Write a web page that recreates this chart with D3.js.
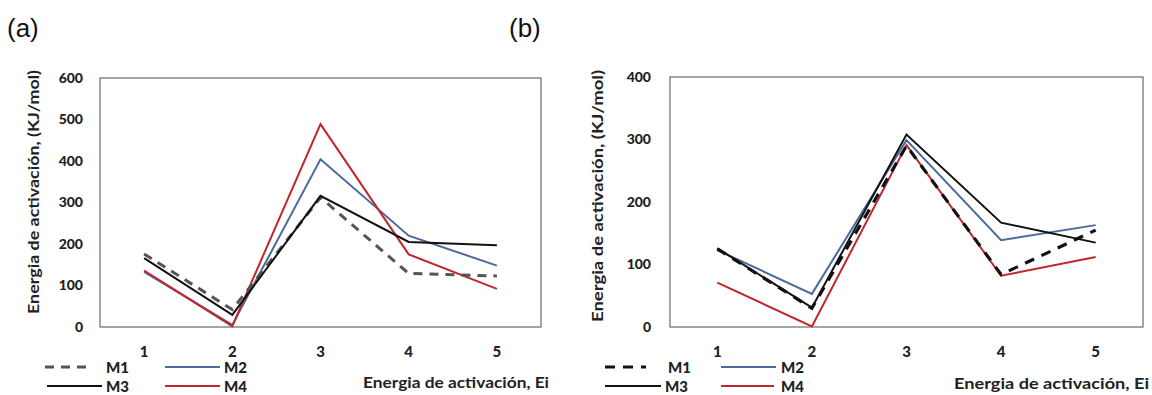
<!DOCTYPE html>
<html>
<head>
<meta charset="utf-8">
<script src="https://cdn.jsdelivr.net/npm/d3@7/dist/d3.min.js"></script>
<style>
  html, body { margin: 0; padding: 0; background: #fff; }
  svg { display: block; }
</style>
</head>
<body>
<svg id="fig" width="1152" height="395"></svg>
<script>
// Activation energy per step (Ei) for the four mixtures, two panels.
const categories = ["1", "2", "3", "4", "5"];
const seriesNames = ["M1", "M2", "M3", "M4"];

// Panel (a)
const aM1 = [176, 42, 312, 129, 123];
const aM2 = [133, 5, 404, 220, 148];
const aM3 = [166, 29, 316, 205, 197];
const aM4 = [136, 2, 489, 175, 92];
const aTicks = [0, 100, 200, 300, 400, 500, 600];

// Panel (b)
const bM1 = [125, 30, 290, 84, 155];
const bM2 = [123, 53, 299, 139, 163];
const bM3 = [126, 31, 308, 167, 135];
const bM4 = [71, 1, 291, 82, 112];
const bTicks = [0, 100, 200, 300, 400];

const yTitle = "Energia de activación, (KJ/mol)";
const xTitle = "Energia de activación, Ei";

const svg = d3.select("#fig");
const FONT = "Lato, 'Open Sans', sans-serif";

function drawPanel(p) {
  const x = d3.scaleBand().domain(categories).range([p.left, p.right]).paddingInner(0).paddingOuter(0);
  const y = d3.scaleLinear().domain([0, p.ticks[p.ticks.length - 1]]).range([p.bottom, p.top]);
  const g = svg.append("g");

  // panel letter
  g.append("text").attr("x", p.letterX).attr("y", 37)
    .attr("font-family", "Arial, 'Liberation Sans', sans-serif").attr("font-size", 26)
    .attr("fill", "#111").text(p.letter);

  // plot frame
  g.append("rect").attr("x", p.left).attr("y", p.top)
    .attr("width", p.right - p.left).attr("height", p.bottom - p.top)
    .attr("fill", "none").attr("stroke", "#6a6a6a").attr("stroke-width", 1.2);

  // y axis labels
  const yAxis = d3.axisLeft(y).tickValues(p.ticks).tickSize(0).tickPadding(p.left - p.yLabelRight);
  const ya = g.append("g").attr("transform", `translate(${p.left},0)`).call(yAxis);
  ya.select(".domain").remove();
  ya.selectAll("text").attr("font-family", FONT).attr("font-weight", "900")
    .attr("font-size", 14).attr("fill", "#222");

  // x axis labels
  const xAxis = d3.axisBottom(x).tickSize(0).tickPadding(p.xLabelY - p.bottom);
  const xa = g.append("g").attr("transform", `translate(0,${p.bottom})`).call(xAxis);
  xa.select(".domain").remove();
  xa.selectAll("text").attr("font-family", FONT).attr("font-weight", "900")
    .attr("font-size", 15).attr("fill", "#222").attr("dy", "0");

  // y title
  g.append("text")
    .attr("transform", `translate(${p.yTitleX},${(p.yTitleTop + p.yTitleBottom) / 2}) rotate(-90)`)
    .attr("text-anchor", "middle").attr("dominant-baseline", "central")
    .attr("font-family", FONT).attr("font-weight", "bold").attr("font-size", 15)
    .attr("fill", "#222")
    .attr("textLength", p.yTitleBottom - p.yTitleTop).attr("lengthAdjust", "spacingAndGlyphs")
    .text(yTitle);

  // x title
  g.append("text").attr("x", p.xTitleLeft).attr("y", p.xTitleY)
    .attr("dominant-baseline", "central")
    .attr("font-family", FONT).attr("font-weight", "bold").attr("font-size", 16)
    .attr("fill", "#222")
    .attr("textLength", p.xTitleRight - p.xTitleLeft).attr("lengthAdjust", "spacingAndGlyphs")
    .text(xTitle);

  // series lines
  const line = d3.line().x((d, i) => x(categories[i]) + x.bandwidth() / 2).y(d => y(d));
  const order = [1, 3, 0, 2]; // M2, M4, M1, M3 drawing order
  order.forEach(k => {
    const s = p.styles[k];
    g.append("path").datum(p.series[k]).attr("d", line)
      .attr("fill", "none").attr("stroke", s.color).attr("stroke-width", s.width)
      .attr("stroke-dasharray", s.dash || null).attr("stroke-linejoin", "miter");
  });

  // legend
  p.legend.forEach((L, k) => {
    const s = p.styles[k];
    g.append("line").attr("x1", L.x1).attr("x2", L.x2).attr("y1", L.y).attr("y2", L.y)
      .attr("stroke", s.color).attr("stroke-width", s.width)
      .attr("stroke-dasharray", s.dash || null);
    g.append("text").attr("x", L.tx).attr("y", L.y).attr("dominant-baseline", "central")
      .attr("font-family", FONT).attr("font-weight", "900").attr("font-size", 15)
      .attr("fill", "#222").text(seriesNames[k]);
  });
}

const BLUE = "#4a6b9c", RED = "#c0262c", BLACK = "#111";

drawPanel({
  letter: "(a)", letterX: 7,
  left: 100, right: 541, top: 78, bottom: 327,
  ticks: aTicks, yLabelRight: 83, xLabelY: 357,
  yTitleX: 33, yTitleTop: 70, yTitleBottom: 314,
  xTitleLeft: 363, xTitleRight: 549, xTitleY: 381,
  series: [aM1, aM2, aM3, aM4],
  styles: [
    { color: "#555", width: 3, dash: "9,7" },
    { color: BLUE, width: 2 },
    { color: BLACK, width: 2 },
    { color: RED, width: 2 }
  ],
  legend: [
    { x1: 45, x2: 88, y: 367, tx: 106 },
    { x1: 165, x2: 220, y: 367, tx: 224 },
    { x1: 47, x2: 102, y: 386, tx: 106 },
    { x1: 165, x2: 220, y: 386, tx: 224 }
  ]
});

drawPanel({
  letter: "(b)", letterX: 509,
  left: 670, right: 1143, top: 77, bottom: 327,
  ticks: bTicks, yLabelRight: 651, xLabelY: 357,
  yTitleX: 597, yTitleTop: 70, yTitleBottom: 322,
  xTitleLeft: 954, xTitleRight: 1149, xTitleY: 382,
  series: [bM1, bM2, bM3, bM4],
  styles: [
    { color: "#111", width: 3.2, dash: "10,8" },
    { color: BLUE, width: 2 },
    { color: BLACK, width: 2 },
    { color: RED, width: 2 }
  ],
  legend: [
    { x1: 605, x2: 646, y: 367, tx: 668 },
    { x1: 721, x2: 776, y: 367, tx: 781 },
    { x1: 605, x2: 661, y: 386, tx: 665 },
    { x1: 721, x2: 774, y: 386, tx: 781 }
  ]
});
</script>
</body>
</html>
